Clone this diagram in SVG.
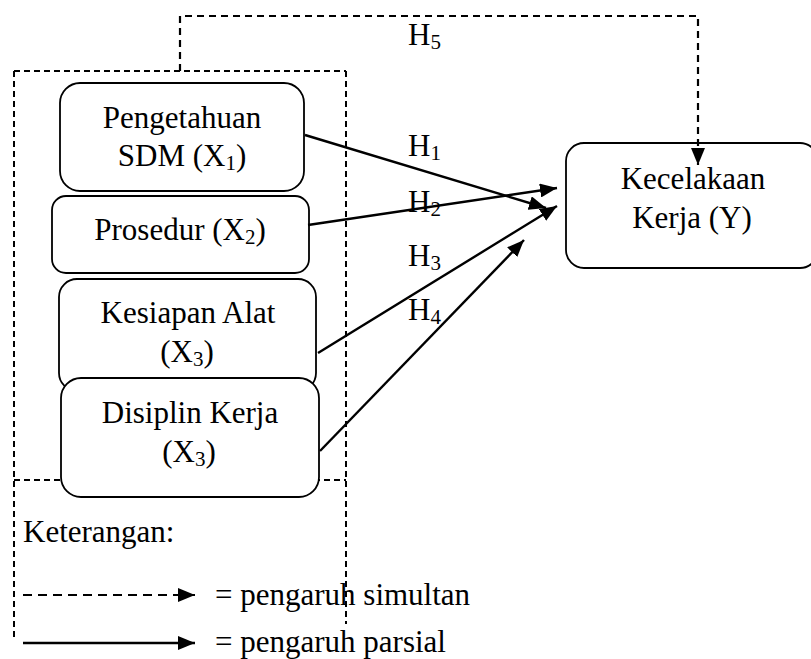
<svg xmlns="http://www.w3.org/2000/svg" width="811" height="659" viewBox="0 0 811 659">
<style>
text{font-family:"Liberation Serif","Times New Roman",serif;font-size:31px;fill:#000}
.sub{font-size:21px}
.box{fill:#fff;stroke:#000;stroke-width:1.8}
.dash{fill:none;stroke:#000;stroke-width:2;stroke-dasharray:6,4}
.dash2{fill:none;stroke:#000;stroke-width:2.2;stroke-dasharray:7,5}
.arr{fill:none;stroke:#000;stroke-width:2.4;marker-end:url(#ah)}
</style>
<defs>
<marker id="ah" markerUnits="userSpaceOnUse" markerWidth="18" markerHeight="14" refX="17" refY="7" orient="auto">
<path d="M0,0 L17,7 L0,14 Z" fill="#000"/>
</marker>
</defs>
<rect width="811" height="659" fill="#fff"/>
<g id="frame">
<path class="dash" d="M14,71 H346 M14,71 V637 M346,71 V624 M14,480 H346"/>
</g>
<g id="node-x1">
<rect class="box" x="60" y="83" width="244" height="108" rx="20"/>
<text x="182" y="128" text-anchor="middle">Pengetahuan</text>
<text x="182" y="166" text-anchor="middle">SDM (X<tspan class="sub" dy="4">1</tspan><tspan dy="-4">)</tspan></text>
</g>
<g id="node-x2">
<rect class="box" x="52" y="196" width="257" height="77" rx="14"/>
<text x="180" y="240" text-anchor="middle">Prosedur (X<tspan class="sub" dy="4">2</tspan><tspan dy="-4">)</tspan></text>
</g>
<g id="node-x3">
<rect class="box" x="59" y="279" width="257" height="112" rx="18"/>
<text x="188" y="323" text-anchor="middle">Kesiapan Alat</text>
<text x="187" y="362" text-anchor="middle">(X<tspan class="sub" dy="4">3</tspan><tspan dy="-4">)</tspan></text>
</g>
<g id="node-x4">
<rect class="box" x="61" y="378" width="258" height="119" rx="20"/>
<text x="190" y="423" text-anchor="middle">Disiplin Kerja</text>
<text x="189" y="462" text-anchor="middle">(X<tspan class="sub" dy="4">3</tspan><tspan dy="-4">)</tspan></text>
</g>
<g id="node-y">
<rect class="box" x="566" y="143" width="252" height="125" rx="18"/>
<text x="693" y="189" text-anchor="middle">Kecelakaan</text>
<text x="692" y="228" text-anchor="middle">Kerja (Y)</text>
</g>
<g id="connectors">
<path class="dash2" d="M180,71 V16 H698 V165" marker-end="url(#ah)"/>
<line class="arr" x1="305" y1="135" x2="546" y2="208"/>
<line class="arr" x1="308" y1="225" x2="557" y2="188"/>
<line class="arr" x1="318" y1="353" x2="557" y2="206"/>
<line class="arr" x1="320" y1="451" x2="524" y2="240"/>
</g>
<g id="labels">
<text x="408" y="45">H<tspan class="sub" dy="4">5</tspan></text>
<text x="408" y="156">H<tspan class="sub" dy="4">1</tspan></text>
<text x="408" y="212">H<tspan class="sub" dy="4">2</tspan></text>
<text x="408" y="266">H<tspan class="sub" dy="4">3</tspan></text>
<text x="408" y="320">H<tspan class="sub" dy="4">4</tspan></text>
</g>
<g id="legend">
<text x="23" y="542">Keterangan:</text>
<line x1="23" y1="595" x2="195" y2="595" stroke="#000" stroke-width="2.2" stroke-dasharray="9,6" marker-end="url(#ah)"/>
<line x1="23" y1="643" x2="195" y2="643" stroke="#000" stroke-width="2.4" marker-end="url(#ah)"/>
<text x="215" y="605">= pengaruh simultan</text>
<text x="215" y="652">= pengaruh parsial</text>
</g>
</svg>
